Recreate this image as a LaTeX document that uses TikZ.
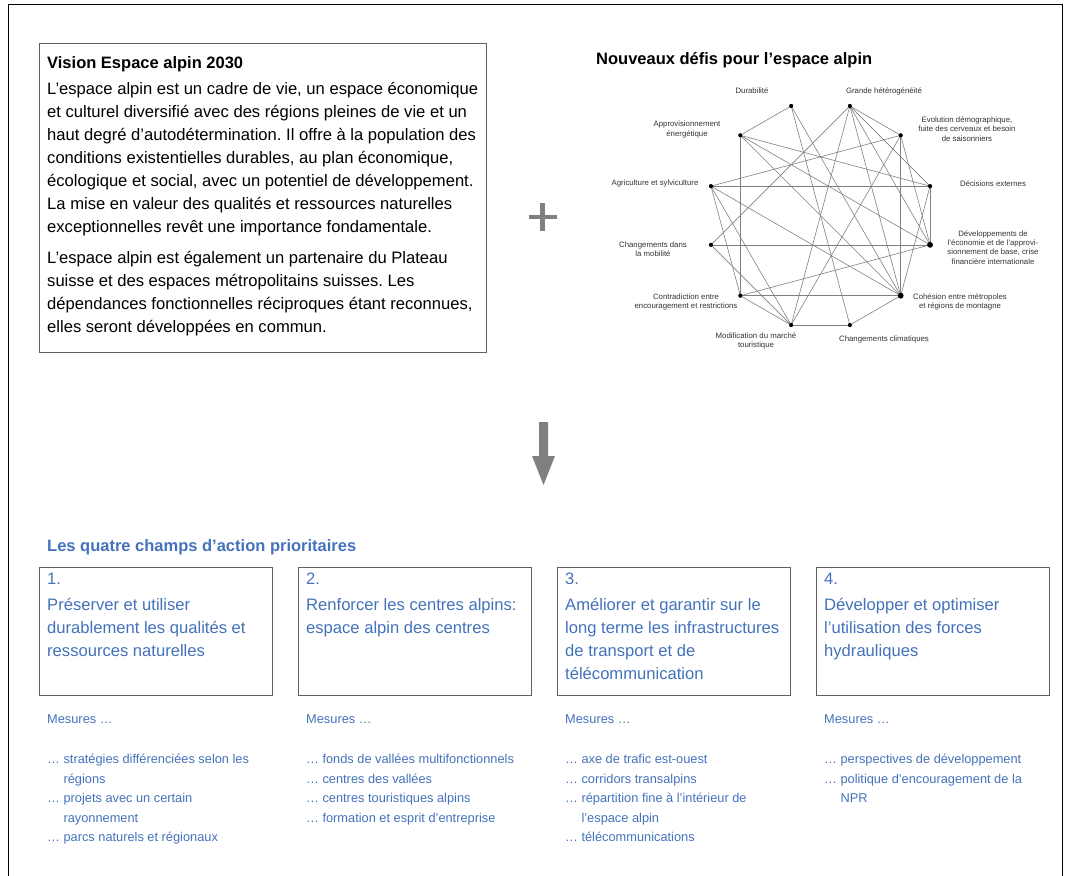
\documentclass[tikz,border=0pt]{standalone}
\usepackage{fontspec}
\setmainfont{Liberation Sans}
\usepackage{xcolor}
\usetikzlibrary{positioning}
\frenchspacing

\definecolor{champbleu}{RGB}{68,114,186}
\definecolor{grisfleche}{RGB}{128,128,128}
\definecolor{griscadre}{RGB}{95,95,95}

\newcommand{\hautligne}[1]{\rule{0pt}{#1}}

\tikzset{
  titre/.style={font=\bfseries\fontsize{16.5}{20}\selectfont, inner sep=0pt},
  texte/.style={font=\fontsize{16.6}{23}\selectfont, align=left, inner sep=0pt, anchor=north west},
  defi/.style={font=\fontsize{7.8}{9.2}\selectfont, align=center, text=black!80, inner sep=0pt},
  lien/.style={draw=black!50, line width=0.6pt},
  champ/.style={draw=griscadre, line width=0.9pt},
  champtexte/.style={font=\fontsize{16.6}{23}\selectfont, align=left, text=champbleu, inner sep=0pt, anchor=north west},
  mesure/.style={font=\fontsize{12.8}{19.5}\selectfont, align=left, text=champbleu, inner sep=0pt, anchor=north west}
}

\begin{document}
\begin{tikzpicture}[x=1pt,y=-1pt]
\useasboundingbox (0,0) rectangle (1067,875);
% cadre
\draw[line width=1pt] (8.5,880) -- (8.5,5) -- (1062.5,5) -- (1062.5,880);

% vision
\draw[line width=0.9pt, draw=griscadre] (39,43) rectangle (486,352);
\node[titre, anchor=base west] (vision) at (47,68) {Vision Espace alpin 2030};
\node[texte] (visiontexte) at (47,81) {\hautligne{13pt}L’espace alpin est un cadre de vie, un espace économique\\
et culturel diversifié avec des régions pleines de vie et un\\
haut degré d’autodétermination. Il offre à la population des\\
conditions existentielles durables, au plan économique,\\
écologique et social, avec un potentiel de développement.\\
La mise en valeur des qualités et ressources naturelles\\
exceptionnelles revêt une importance fondamentale.\\[8pt]
L’espace alpin est également un partenaire du Plateau\\
suisse et des espaces métropolitains suisses. Les\\
dépendances fonctionnelles réciproques étant reconnues,\\
elles seront développées en commun.};

% plus et fleche
\fill[grisfleche] (528.5,214.5) rectangle (556.5,219);
\fill[grisfleche] (540.2,203) rectangle (544.7,231);
\fill[grisfleche] (539,422) -- (548,422) -- (548,456) -- (555,456) -- (543.5,485) -- (532,456) -- (539,456) -- cycle;

% defis
\node[titre, anchor=base west] (defis) at (596,64) {Nouveaux défis pour l’espace alpin};
\begin{scope}[shift={(820.5,215.5)}]
  \foreach \nom/\ang in {dur/105, gra/75, evo/45, dec/15, dev/-15, coh/-45,
                         cli/-75, mod/-105, con/-135, mob/-165, agr/165, app/135}
    \coordinate (\nom) at (\ang:113.4pt);
\end{scope}
\foreach \a/\b in {dur/app, dur/cli, dur/coh, gra/evo, gra/dec, gra/dev, gra/coh,
                   gra/mob, gra/mod, evo/agr, evo/mod, evo/coh, evo/dev, dec/agr,
                   dec/app, dec/dev, dec/coh, dev/mob, dev/app, dev/con, coh/con,
                   coh/cli, coh/agr, coh/app, app/con, agr/con, agr/mod, mob/mod,
                   con/mod, mod/cli}
  \draw[lien] (\a) -- (\b);
\foreach \nom in {dur, gra, evo, dec, mob, agr, app, con, mod, cli}
  \fill (\nom) circle (2.1);
\foreach \nom in {dev, coh}
  \fill (\nom) circle (2.9);

\node[defi] (ldur) at (752,91) {Durabilité};
\node[defi] (lgra) at (884,91) {Grande hétérogénéité};
\node[defi] (levo) at (967,129) {Evolution démographique,\\fuite des cerveaux et besoin\\de saisonniers};
\node[defi] (ldec) at (993,183.5) {Décisions externes};
\node[defi] (ldev) at (993,247.5) {Développements de\\l’économie et de l’approvi-\\sionnement de base, crise\\financière internationale};
\node[defi] (lcoh) at (960,302) {Cohésion entre métropoles\\et régions de montagne};
\node[defi] (lcli) at (884,339) {Changements climatiques};
\node[defi] (lmod) at (756,341) {Modification du marché\\touristique};
\node[defi] (lcon) at (686,302) {Contradiction entre\\encouragement et restrictions};
\node[defi] (lmob) at (653,249) {Changements dans\\la mobilité};
\node[defi] (lagr) at (655,183) {Agriculture et sylviculture};
\node[defi] (lapp) at (687,129.5) {Approvisionnement\\énergétique};

% champs d'action
\node[titre, anchor=base west, text=champbleu] (champs) at (47,551) {Les quatre champs d’action prioritaires};
\foreach \i in {0,1,2,3}
  \draw[champ] (39+259*\i,567) rectangle (272+259*\i,695);
\node[champtexte] (c1) at (47,571) {\hautligne{13pt}1.\\[3pt]Préserver et utiliser\\durablement les qualités et\\ressources naturelles};
\node[champtexte] (c2) at (306,571) {\hautligne{13pt}2.\\[3pt]Renforcer les centres alpins:\\espace alpin des centres};
\node[champtexte] (c3) at (565,571) {\hautligne{13pt}3.\\[3pt]Améliorer et garantir sur le\\long terme les infrastructures\\de transport et de\\télécommunication};
\node[champtexte] (c4) at (824,571) {\hautligne{13pt}4.\\[3pt]Développer et optimiser\\l’utilisation des forces\\hydrauliques};

\foreach \i in {0,1,2,3}
  \node[mesure, anchor=base west] (m\i) at (47+259*\i,723.5) {Mesures …};
\node[mesure] (l1) at (47,753.5) {\hautligne{10pt}… stratégies différenciées selon les\\\hphantom{… }régions\\… projets avec un certain\\\hphantom{… }rayonnement\\… parcs naturels et régionaux};
\node[mesure] (l2) at (306,753.5) {\hautligne{10pt}… fonds de vallées multifonctionnels\\… centres des vallées\\… centres touristiques alpins\\… formation et esprit d’entreprise};
\node[mesure] (l3) at (565,753.5) {\hautligne{10pt}… axe de trafic est-ouest\\… corridors transalpins\\… répartition fine à l’intérieur de\\\hphantom{… }l’espace alpin\\… télécommunications};
\node[mesure] (l4) at (824,753.5) {\hautligne{10pt}… perspectives de développement\\… politique d’encouragement de la\\\hphantom{… }NPR};
\end{tikzpicture}
\end{document}
